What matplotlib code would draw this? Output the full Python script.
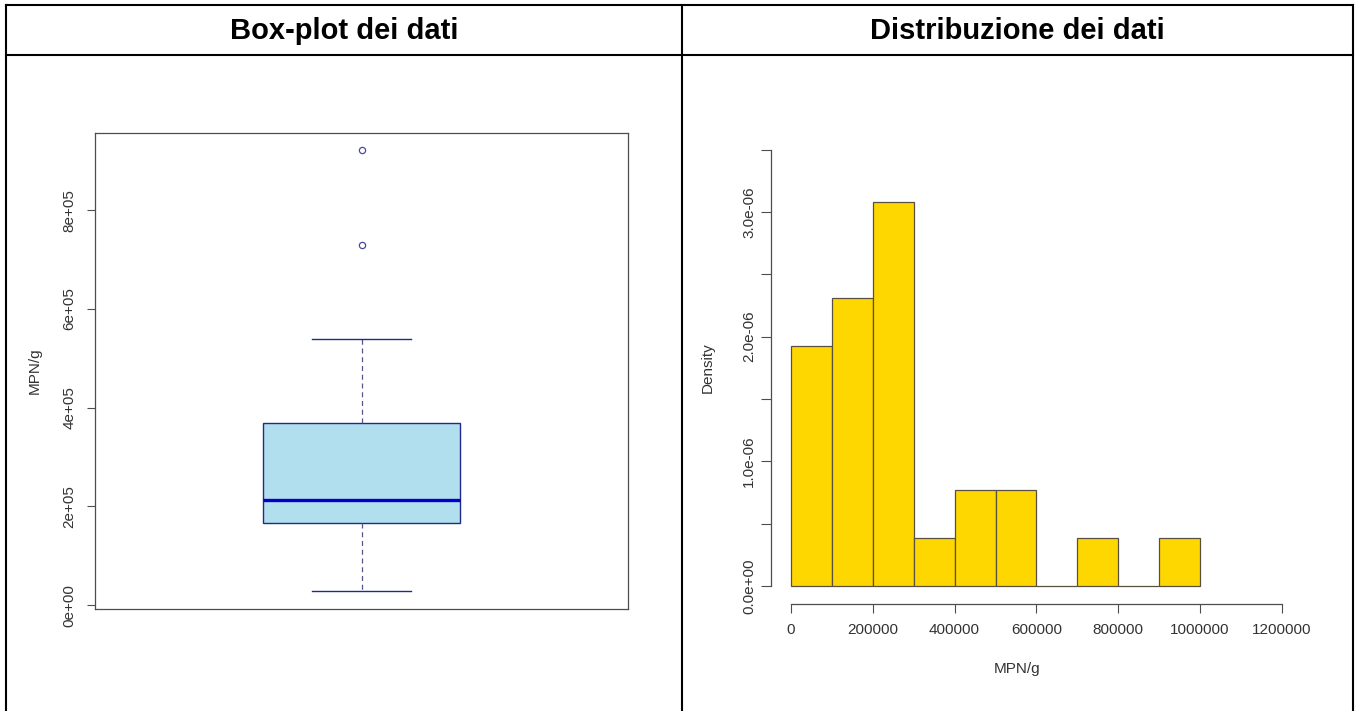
import numpy as np
import matplotlib
matplotlib.use("Agg")
import matplotlib.pyplot as plt
from matplotlib.lines import Line2D

plt.rcParams['font.family'] = ['Liberation Sans', 'DejaVu Sans']

# ---- data ----
titles = ["Box-plot dei dati", "Distribuzione dei dati"]

# box-plot summary (MPN/g)
box_q1 = 166700
box_med = 214000
box_q3 = 369000
whisk_lo = 28000
whisk_hi = 540000
outliers = [730500, 921500]
box_yticks = [0, 200000, 400000, 600000, 800000]

# histogram (density per 100000-wide bin)
bin_edges = [0, 100000, 200000, 300000, 400000, 500000,
             600000, 700000, 800000, 900000, 1000000]
densities = [1.923e-6, 2.308e-6, 3.077e-6, 0.385e-6, 0.769e-6,
             0.769e-6, 0.0, 0.385e-6, 0.0, 0.385e-6]
hist_xticks = [0, 200000, 400000, 600000, 800000, 1000000, 1200000]
hist_yticks = [0.0, 1.0e-6, 2.0e-6, 3.0e-6]
hist_yminor = [0.5e-6, 1.5e-6, 2.5e-6, 3.5e-6]

W, H = 1357, 711
TXT = '#333333'
AXC = '#4d4d4d'


def fx(px):
    return px / W


def fy(py):
    return 1 - py / H


fig = plt.figure(figsize=(W / 100, H / 100), dpi=100)

# ---- table grid ----
lw_tab = 1.5
for (x0, y0, x1, y1) in [(6, 5, 1353, 5), (6, 55, 1353, 55),
                         (6, 5, 6, 711), (682, 5, 682, 711), (1353, 5, 1353, 711)]:
    fig.add_artist(Line2D([fx(x0), fx(x1)], [fy(y0), fy(y1)],
                          transform=fig.transFigure, color='black', lw=lw_tab))

fig.text(fx(344), fy(39), titles[0], ha='center', va='baseline',
         fontsize=21, fontweight='bold', color='black')
fig.text(fx(1017), fy(39), titles[1], ha='center', va='baseline',
         fontsize=21, fontweight='bold', color='black')

# ---- box plot ----
ax1 = fig.add_axes([fx(95), fy(609), (628 - 95) / W, (609 - 132.7) / H])
stats = [{'med': box_med, 'q1': box_q1, 'q3': box_q3,
          'whislo': whisk_lo, 'whishi': whisk_hi, 'fliers': outliers}]
ax1.bxp(stats, positions=[1], widths=0.37, capwidths=0.1876,
        patch_artist=True, showfliers=True,
        boxprops=dict(facecolor='#b2dfee', edgecolor='#1f2a8c', lw=1.0),
        medianprops=dict(color='#0000c8', lw=2.4),
        whiskerprops=dict(color='#55558a', lw=0.9, linestyle=(0, (4, 3))),
        capprops=dict(color='#1f2a8c', lw=1.0),
        flierprops=dict(marker='o', markersize=4.5, markerfacecolor='none',
                        markeredgecolor='#4a4aa0', markeredgewidth=0.9))

all_vals = [whisk_lo] + outliers
span = max(all_vals) - min(all_vals)
ax1.set_ylim(min(all_vals) - 0.04 * span, max(all_vals) + 0.04 * span)
ax1.set_xlim(0.5, 1.5)
ax1.set_xticks([])
ax1.set_yticks(box_yticks, [f"{v:.0e}" for v in box_yticks],
               rotation=90, va='center')
ax1.tick_params(axis='y', length=6, width=0.8, color=AXC, pad=7.5,
                labelsize=11, labelcolor=TXT)
for s in ax1.spines.values():
    s.set_color(AXC)
    s.set_linewidth(0.9)
ax1.set_ylabel("MPN/g", fontsize=11, color=TXT, va='center')
ax1.yaxis.set_label_coords((35 - 95) / 533, 0.5)

# ---- histogram ----
ax2 = fig.add_axes([fx(771.4), fy(603.5), 530 / W, (603.5 - 132.1) / H])
ax2.bar(bin_edges[:-1], densities, width=np.diff(bin_edges), align='edge',
        color='#ffd700', edgecolor='#5a5040', lw=0.9)
ax2.set_xlim(-0.04 * hist_xticks[-1], 1.04 * hist_xticks[-1])
ax2.set_ylim(-0.04 * hist_yminor[-1], 1.04 * hist_yminor[-1])
ax2.spines['top'].set_visible(False)
ax2.spines['right'].set_visible(False)
ax2.spines['left'].set_bounds(0, hist_yminor[-1])
ax2.spines['bottom'].set_bounds(0, hist_xticks[-1])
for s in ('left', 'bottom'):
    ax2.spines[s].set_color(AXC)
    ax2.spines[s].set_linewidth(0.9)

ax2.set_xticks(hist_xticks, [str(v) for v in hist_xticks])
ax2.set_yticks(hist_yticks, [f"{v:.1e}" for v in hist_yticks],
               rotation=90, va='center')
ax2.set_yticks(hist_yminor, minor=True)
ax2.tick_params(axis='x', length=6.5, width=0.8, color=AXC, pad=7.5,
                labelsize=11, labelcolor=TXT)
ax2.tick_params(axis='y', which='both', length=7, width=0.8, color=AXC,
                pad=4, labelsize=11, labelcolor=TXT)
ax2.set_ylabel("Density", fontsize=11, color=TXT, va='center')
ax2.yaxis.set_label_coords((708 - 771.4) / 530, 0.5)
ax2.set_xlabel("MPN/g", fontsize=11, color=TXT, va='center')
ax2.xaxis.set_label_coords((1017 - 771.4) / 530, (603.5 - 669) / 471.4)

fig.savefig("out.png", dpi=100, facecolor='white')
